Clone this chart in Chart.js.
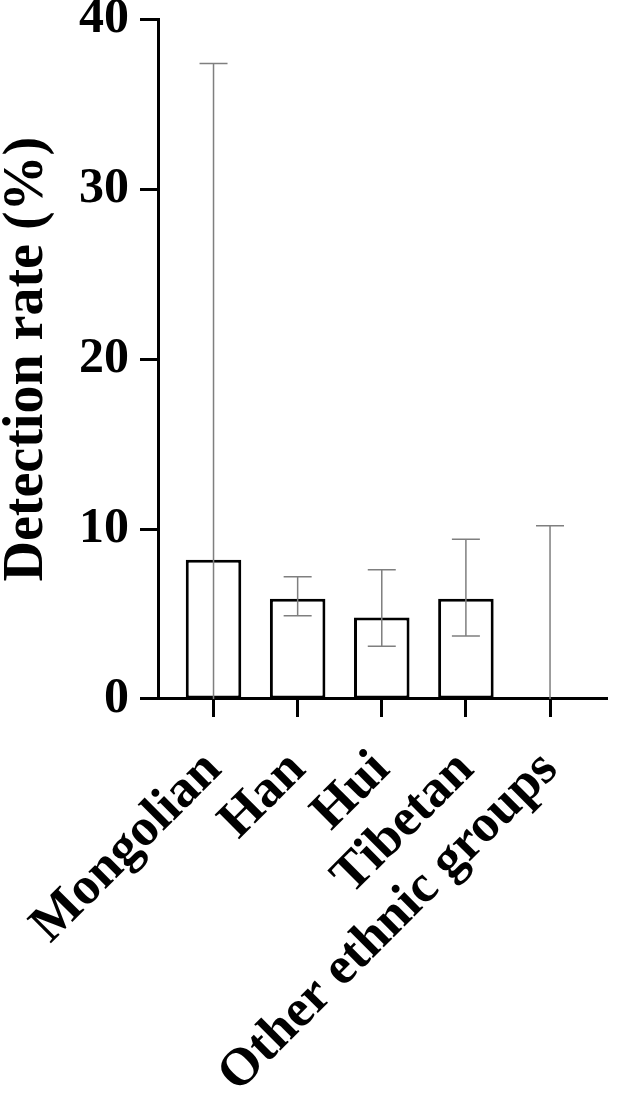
<!DOCTYPE html>
<html>
<head>
<meta charset="utf-8">
<script src="https://cdn.jsdelivr.net/npm/chart.js@4.4.0/dist/chart.umd.min.js"></script>
<style>
  html, body { margin: 0; padding: 0; background: #fff; }
  #wrap { width: 617px; height: 1106px; }
</style>
</head>
<body>
<div id="wrap"><canvas id="grafico"></canvas></div>
<script>
const grupos = ['Mongolian', 'Han', 'Hui', 'Tibetan', 'Other ethnic groups'];
const taxa = [8.2, 5.9, 4.8, 5.9, 0];
const erroSup = [37.4, 7.2, 7.6, 9.4, 10.2];
const erroInf = [0, 4.9, 3.1, 3.7, 0];
const ticksY = [0, 10, 20, 30, 40];

const fonte = 'Liberation Serif, Times New Roman, serif';

// error bars drawn on top of the bars, using the chart scales
const barrasErro = {
  id: 'barrasErro',
  afterDatasetsDraw(chart) {
    const { ctx, scales: { x, y } } = chart;
    ctx.save();
    ctx.strokeStyle = '#7f7f7f';
    ctx.lineWidth = 1.5;
    grupos.forEach((g, i) => {
      const px = x.getPixelForValue(i);
      const topo = y.getPixelForValue(erroSup[i]);
      const base = y.getPixelForValue(erroInf[i]);
      ctx.beginPath();
      ctx.moveTo(px, base);
      ctx.lineTo(px, topo);
      ctx.moveTo(px - 14, topo);
      ctx.lineTo(px + 14, topo);
      if (erroInf[i] > 0) {
        ctx.moveTo(px - 14, base);
        ctx.lineTo(px + 14, base);
      }
      ctx.stroke();
    });
    ctx.restore();
  }
};

const ctx = document.getElementById('grafico').getContext('2d');

let grafico = new Chart(ctx, {
  type: 'bar',
  data: {
    datasets: [{
      data: grupos.map((g, i) => ({ x: i, y: taxa[i] })),
      backgroundColor: '#ffffff',
      borderColor: '#000000',
      borderWidth: 3,
      borderSkipped: false,
      barPercentage: 0.66,
      categoryPercentage: 1
    }]
  },
  options: {
    responsive: true,
    maintainAspectRatio: false,
    animation: false,
    layout: { padding: { top: 0, left: 0, right: 0, bottom: -22 } },
    plugins: {
      legend: { display: false },
      tooltip: { enabled: false }
    },
    scales: {
      x: {
        type: 'linear',
        offset: false,
        min: -0.66,
        max: 4.68,
        grid: {
          offset: false,
          drawOnChartArea: false,
          drawTicks: true,
          tickLength: 18,
          tickWidth: 3,
          tickColor: '#000'
        },
        border: { display: true, width: 3, color: '#000' },
        afterBuildTicks: (scale) => {
          scale.ticks = grupos.map((g, i) => ({ value: i }));
        },
        ticks: {
          autoSkip: false,
          minRotation: 45,
          maxRotation: 45,
          padding: 22,
          color: '#000',
          font: { family: fonte, size: 53, weight: 'bold' },
          callback: (v) => grupos[v]
        }
      },
      y: {
        min: 0,
        max: 40,
        afterBuildTicks: (scale) => {
          scale.ticks = ticksY.map(v => ({ value: v }));
        },
        grid: {
          drawOnChartArea: false,
          drawTicks: true,
          tickLength: 18,
          tickWidth: 3,
          tickColor: '#000'
        },
        border: { display: true, width: 3, color: '#000' },
        ticks: {
          padding: 11,
          color: '#000',
          font: { family: fonte, size: 50, weight: 'bold', lineHeight: 0.33 }
        },
        title: {
          display: true,
          text: 'Detection rate (%)',
          color: '#000',
          font: { family: fonte, size: 56, weight: 'bold', lineHeight: 1 },
          padding: { top: 0, bottom: 12 }
        }
      }
    }
  },
  plugins: [barrasErro]
});
</script>
</body>
</html>
